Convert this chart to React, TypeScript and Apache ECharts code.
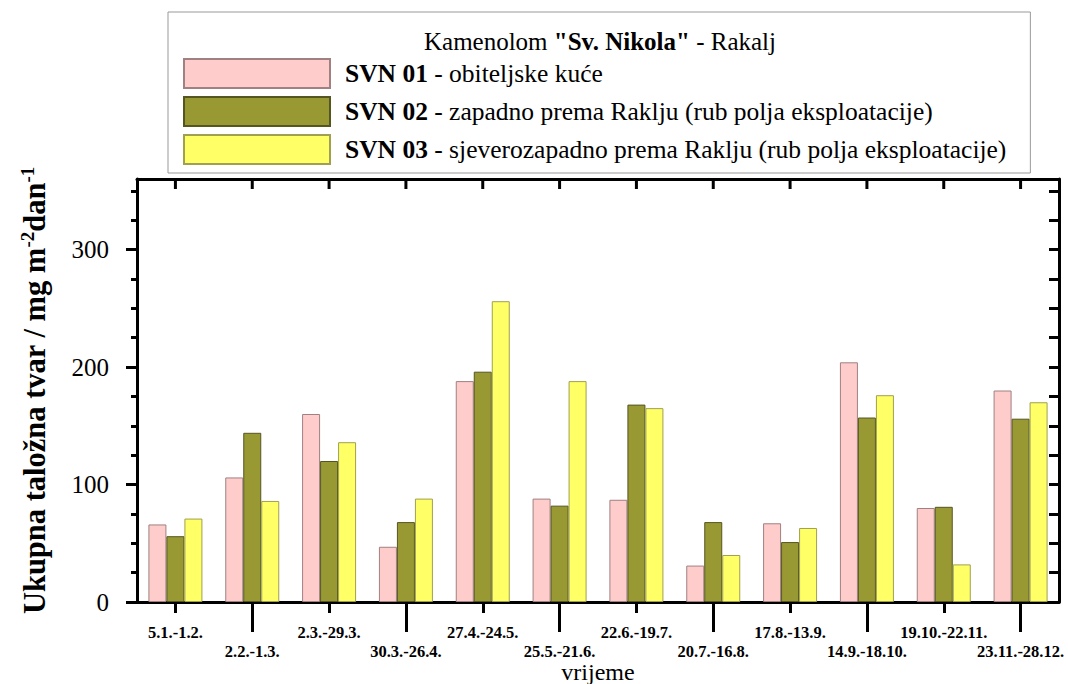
import React, { useEffect, useRef } from "react";
import * as echarts from "echarts";

const categories = [
  "5.1.-1.2.", "2.2.-1.3.", "2.3.-29.3.", "30.3.-26.4.", "27.4.-24.5.", "25.5.-21.6.",
  "22.6.-19.7.", "20.7.-16.8.", "17.8.-13.9.", "14.9.-18.10.", "19.10.-22.11.", "23.11.-28.12.",
];
const seriesNames = ["SVN 01", "SVN 02", "SVN 03"];
const seriesDescriptions = [
  "obiteljske kuće",
  "zapadno prema Raklju (rub polja eksploatacije)",
  "sjeverozapadno prema Raklju (rub polja eksploatacije)",
];
const svn01 = [66, 106, 160, 47, 188, 88, 87, 31, 67, 204, 80, 180];
const svn02 = [56, 144, 120, 68, 196, 82, 168, 68, 51, 157, 81, 156];
const svn03 = [71, 86, 136, 88, 256, 188, 165, 40, 63, 176, 32, 170];
const yMajorTicks = [0, 100, 200, 300];
const yMinorTicks = [25, 50, 75, 125, 150, 175, 225, 250, 275, 325, 350];
const yRightTicks = [25, 50, 75, 100, 125, 150, 175, 200, 225, 250, 275, 300, 325, 350];
const Y_MAX = 360;

const FONT = "'Liberation Serif', 'Times New Roman', Tinos, serif";
const colors = ["#FFCCCC", "#999933", "#FFFF66"];
const borders = ["#a08080", "#555522", "#a0a050"];

export default function App() {
  const ref = useRef<HTMLDivElement>(null);
  useEffect(() => {
    document.body.style.margin = "0";
    const chart = echarts.init(ref.current!, null, { renderer: "svg" });
    const values = [svn01, svn02, svn03];
    const axisLine = { show: true, onZero: false, lineStyle: { color: "#000", width: 3 } };
    const barSeries = seriesNames.map((name, i) => ({
      name,
      type: "bar",
      xAxisIndex: 0,
      yAxisIndex: 0,
      data: values[i],
      barWidth: 18,
      barGap: "0%",
      itemStyle: { color: colors[i], borderColor: borders[i], borderWidth: 1 },
    }));
    const topTickSeries = {
      name: "topTicks",
      type: "custom",
      xAxisIndex: 0,
      yAxisIndex: 0,
      silent: true,
      z: 10,
      clip: false,
      tooltip: { show: false },
      data: categories.map((c) => [c, Y_MAX]),
      encode: { x: 0, y: 1 },
      renderItem: (_params: any, api: any) => {
        const p = api.coord([api.value(0), api.value(1)]);
        return {
          type: "line",
          shape: { x1: p[0], y1: p[1], x2: p[0], y2: p[1] + 10 },
          style: { stroke: "#000", lineWidth: 3 },
        };
      },
    };
    chart.setOption({
      animation: false,
      backgroundColor: "#fff",
      title: {
        text: 'Kamenolom {b|"Sv. Nikola"} - Rakalj',
        left: 600,
        top: 29,
        padding: 0,
        textAlign: "center",
        textStyle: {
          fontFamily: FONT,
          fontSize: 25,
          fontWeight: "normal",
          color: "#000",
          rich: { b: { fontFamily: FONT, fontSize: 25, fontWeight: "bold", color: "#000" } },
        },
      },
      legend: {
        orient: "vertical",
        left: 168,
        top: 12,
        padding: [46, 24, 8, 15],
        itemGap: 7,
        itemWidth: 146,
        itemHeight: 29,
        icon: "rect",
        borderColor: "#999",
        borderWidth: 1,
        data: seriesNames,
        formatter: (name: string) => {
          const i = seriesNames.indexOf(name);
          return `{sp|}{b|${name}} - ${seriesDescriptions[i]}`;
        },
        textStyle: {
          fontFamily: FONT,
          fontSize: 25.5,
          color: "#000",
          rich: {
            sp: { width: 10 },
            b: { fontFamily: FONT, fontSize: 25.5, fontWeight: "bold", color: "#000" },
          },
        },
      },
      grid: { left: 137, right: 9, top: 179, bottom: 82, containLabel: false, outerBoundsMode: "none" },
      xAxis: [
        {
          type: "category",
          data: categories,
          position: "bottom",
          axisLine,
          axisTick: {
            show: true,
            alignWithLabel: true,
            length: 11,
            interval: (i: number) => i % 2 === 0,
            lineStyle: { width: 3, color: "#000" },
          },
          axisLabel: {
            interval: (i: number) => i % 2 === 0,
            margin: 22,
            fontFamily: FONT,
            fontWeight: "bold",
            fontSize: 16.5,
            color: "#000",
          },
          name: "vrijeme",
          nameLocation: "middle",
          nameGap: 58,
          nameTextStyle: { fontFamily: FONT, fontSize: 24, color: "#000" },
        },
        {
          type: "category",
          data: categories,
          position: "bottom",
          axisLine: { show: false, onZero: false },
          axisTick: {
            show: true,
            alignWithLabel: true,
            length: 30,
            interval: (i: number) => i % 2 === 1,
            lineStyle: { width: 3, color: "#000" },
          },
          axisLabel: {
            interval: (i: number) => i % 2 === 1,
            margin: 41,
            fontFamily: FONT,
            fontWeight: "bold",
            fontSize: 16.5,
            color: "#000",
          },
        },
        {
          type: "value",
          position: "top",
          min: 0,
          max: categories.length,
          axisLine,
          splitLine: { show: false },
          axisTick: { show: false },
          axisLabel: { show: false },
        },
      ],
      yAxis: [
        {
          type: "value",
          position: "left",
          min: 0,
          max: Y_MAX,
          axisLine,
          splitLine: { show: false },
          axisTick: {
            show: true,
            length: 11,
            customValues: yMajorTicks,
            lineStyle: { width: 3, color: "#000" },
          },
          axisLabel: {
            customValues: yMajorTicks,
            margin: 28,
            fontFamily: FONT,
            fontSize: 25,
            color: "#000",
          },
          name: "{m|Ukupna taložna tvar / mg m}{s|-2}{m|dan}{s|-1}",
          nameLocation: "middle",
          nameGap: 87,
          nameRotate: 90,
          nameTextStyle: {
            fontFamily: FONT,
            fontWeight: "bold",
            fontSize: 30.5,
            color: "#000",
            rich: {
              m: { fontFamily: FONT, fontWeight: "bold", fontSize: 30.5, lineHeight: 32, verticalAlign: "bottom", color: "#000" },
              s: { fontFamily: FONT, fontWeight: "bold", fontSize: 19, lineHeight: 19, verticalAlign: "top", padding: [0, 0, 22, 0], color: "#000" },
            },
          },
        },
        {
          type: "value",
          position: "left",
          min: 0,
          max: Y_MAX,
          axisLine: { show: false, onZero: false },
          splitLine: { show: false },
          axisTick: {
            show: true,
            length: 6,
            customValues: yMinorTicks,
            lineStyle: { width: 3, color: "#000" },
          },
          axisLabel: { show: false },
        },
        {
          type: "value",
          position: "right",
          min: 0,
          max: Y_MAX,
          axisLine,
          splitLine: { show: false },
          axisTick: {
            show: true,
            inside: true,
            length: 10,
            customValues: yRightTicks,
            lineStyle: { width: 3, color: "#000" },
          },
          axisLabel: { show: false },
        },
      ],
      series: [...barSeries, topTickSeries],
    });
    return () => chart.dispose();
  }, []);
  return <div ref={ref} style={{ width: 1068, height: 684 }} />;
}
